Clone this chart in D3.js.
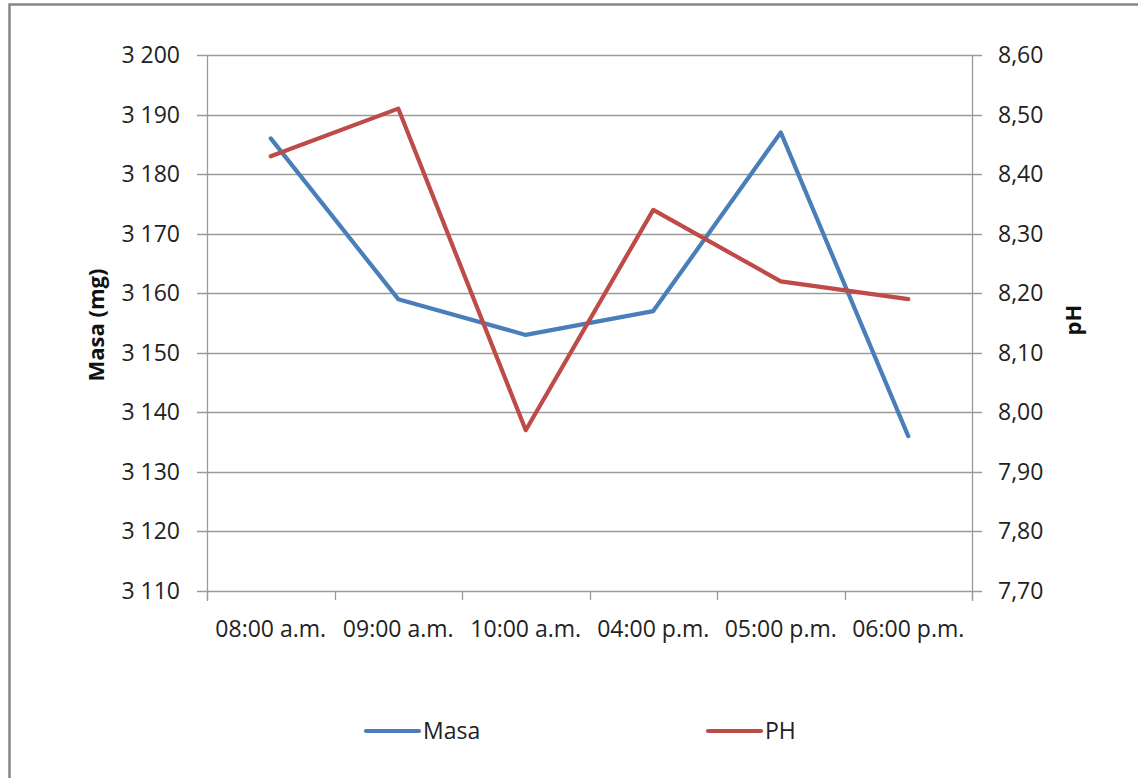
<!DOCTYPE html>
<html><head><meta charset="utf-8">
<script src="https://cdn.jsdelivr.net/npm/d3@7/dist/d3.min.js"></script>
<style>
html,body{margin:0;padding:0;background:#fff;}
svg{display:block;font-family:"Open Sans","Liberation Sans",sans-serif;}
</style></head><body>
<svg id="c" width="1138" height="778"></svg>
<script>
const categories = ["08:00 a.m.","09:00 a.m.","10:00 a.m.","04:00 p.m.","05:00 p.m.","06:00 p.m."];
const masa = [3186, 3159, 3153, 3157, 3187, 3136];
const ph = [8.43, 8.51, 7.97, 8.34, 8.22, 8.19];
const leftTicks = [3110,3120,3130,3140,3150,3160,3170,3180,3190,3200];
const rightTicks = [7.70,7.80,7.90,8.00,8.10,8.20,8.30,8.40,8.50,8.60];
const seriesNames = ["Masa","PH"];
const colors = ["#4A7EBB","#BE4B48"];

const loc = d3.formatLocale({decimal:",", thousands:" ", grouping:[3], currency:["",""]});
const fmtL = loc.format(",d");
const fmtR = loc.format(".2f");

const svg = d3.select("#c");
const L=207, R=972, T=55, B=591;
const x = d3.scaleBand().domain(categories).range([L,R]);
const yL = d3.scaleLinear().domain([3110,3200]).range([B,T]);
const yR = d3.scaleLinear().domain([7.70,8.60]).range([B,T]);

// outer border
svg.append("rect").attr("x",9.5).attr("y",4.5).attr("width",1140).attr("height",790)
  .attr("fill","none").attr("stroke","#878787").attr("stroke-width",2.5);

const grid = "#9a9a9a";
svg.append("g").selectAll("line").data(leftTicks).join("line")
  .attr("x1",L-10).attr("x2",R+10).attr("y1",d=>Math.round(yL(d))+0.5).attr("y2",d=>Math.round(yL(d))+0.5)
  .attr("stroke",grid).attr("stroke-width",1.3);
svg.append("line").attr("x1",L+0.5).attr("x2",L+0.5).attr("y1",T).attr("y2",B+10).attr("stroke",grid).attr("stroke-width",1.3);
svg.append("line").attr("x1",R+0.5).attr("x2",R+0.5).attr("y1",T).attr("y2",B+10).attr("stroke",grid).attr("stroke-width",1.3);
const edges = categories.map(c=>x(c)).concat([R]);
svg.append("g").selectAll("line").data(edges).join("line")
  .attr("x1",d=>Math.round(d)+0.5).attr("x2",d=>Math.round(d)+0.5).attr("y1",B).attr("y2",B+9)
  .attr("stroke",grid).attr("stroke-width",1.3);

const fs = 23;
svg.append("g").selectAll("text").data(leftTicks).join("text")
  .attr("x",180).attr("y",d=>yL(d)).attr("dy","0.35em").attr("text-anchor","end")
  .attr("font-size",fs).attr("fill","#222").text(d=>fmtL(d));
svg.append("g").selectAll("text").data(rightTicks).join("text")
  .attr("x",998).attr("y",d=>yR(d)).attr("dy","0.35em").attr("text-anchor","start")
  .attr("font-size",fs).attr("fill","#222").text(d=>fmtR(d));
svg.append("g").selectAll("text").data(categories).join("text")
  .attr("x",d=>x(d)+x.bandwidth()/2).attr("y",629).attr("dy","0.35em").attr("text-anchor","middle")
  .attr("font-size",fs).attr("fill","#222").text(d=>d);

svg.append("text").attr("transform","translate(96,325) rotate(-90)").attr("text-anchor","middle")
  .attr("dy","0.35em").attr("font-size",22).attr("font-weight","bold").attr("fill","#111").text("Masa (mg)");
svg.append("text").attr("transform","translate(1073,320) rotate(-90)").attr("text-anchor","middle")
  .attr("dy","0.35em").attr("font-size",22).attr("font-weight","bold").attr("fill","#111").text("pH");

const cx = d=>x(d)+x.bandwidth()/2;
const lineL = d3.line().x((d,i)=>cx(categories[i])).y(d=>yL(d));
const lineR = d3.line().x((d,i)=>cx(categories[i])).y(d=>yR(d));
svg.append("path").attr("d",lineL(masa)).attr("fill","none").attr("stroke",colors[0])
  .attr("stroke-width",4.2).attr("stroke-linejoin","round").attr("stroke-linecap","round");
svg.append("path").attr("d",lineR(ph)).attr("fill","none").attr("stroke",colors[1])
  .attr("stroke-width",4.2).attr("stroke-linejoin","round").attr("stroke-linecap","round");

const lx = [366, 708];
const lg = svg.append("g").selectAll("g").data(seriesNames).join("g")
  .attr("transform",(d,i)=>`translate(${lx[i]},731)`);
lg.append("line").attr("x1",0).attr("x2",53).attr("y1",0).attr("y2",0)
  .attr("stroke",(d,i)=>colors[i]).attr("stroke-width",4.2).attr("stroke-linecap","round");
lg.append("text").attr("x",57).attr("y",0).attr("dy","0.35em").attr("font-size",fs).attr("fill","#222").text(d=>d);
</script></body></html>
